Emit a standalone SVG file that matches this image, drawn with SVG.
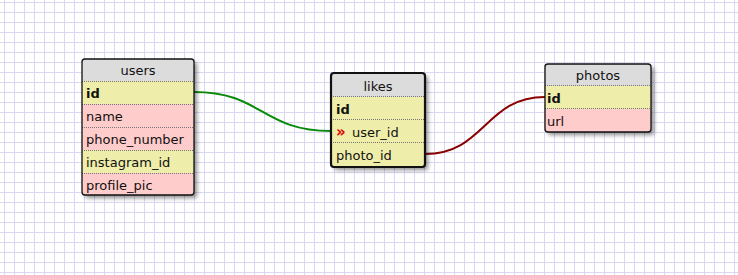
<svg xmlns="http://www.w3.org/2000/svg" width="738" height="275" viewBox="0 0 738 275">
  <defs>
    <pattern id="grid" x="0" y="0" width="10" height="10" patternUnits="userSpaceOnUse">
      <path d="M4.5,0 V10 M0,2.5 H10" stroke="#d9d7f2" stroke-width="1" fill="none"/>
    </pattern>
    <filter id="shadow" x="-20%" y="-20%" width="140%" height="140%">
      <feDropShadow dx="3" dy="3" stdDeviation="2.2" flood-color="#000" flood-opacity="0.45"/>
    </filter>
  </defs>
  <style>
    text { font-family: "DejaVu Sans", Verdana, sans-serif; font-size: 13px; fill: #111; }
    .title { text-anchor: middle; }
    .key { font-weight: bold; }
    .head { fill: #dcdcdc; }
    .pk, .fk { fill: #eeeeaa; }
    .col { fill: #ffcccc; }
    .sep { stroke: #777; stroke-width: 1; stroke-dasharray: 1 1; fill: none; }
    .frame { fill: none; stroke: #111; stroke-width: 1.3; }
    .frame.sel { stroke-width: 2.2; }
    .link { fill: none; stroke-width: 2; }
    .mark { fill: #e00000; font-weight: bold; font-size: 15px; }
  </style>

  <rect width="738" height="275" fill="#fff"/>
  <rect width="738" height="275" fill="url(#grid)"/>

  <g id="connectors">
    <path class="link" stroke="#0a8a0a" d="M194,92 C262,92 262,131 331,131"/>
    <path class="link" stroke="#8b0000" d="M425,154 C485,154 485,97 545,97"/>
  </g>

  <g id="users">
    <rect x="82" y="59" width="112" height="136" rx="3" fill="#fff" filter="url(#shadow)"/>
    <path class="head" d="M85,59 H191 A3,3 0 0 1 194,62 V81 H82 V62 A3,3 0 0 1 85,59 Z"/>
    <rect class="pk" x="82" y="81" width="112" height="23"/>
    <rect class="col" x="82" y="104" width="112" height="23"/>
    <rect class="col" x="82" y="127" width="112" height="23"/>
    <rect class="fk" x="82" y="150" width="112" height="23"/>
    <path class="col" d="M82,173 H194 V192 A3,3 0 0 1 191,195 H85 A3,3 0 0 1 82,192 Z"/>
    <path class="sep" d="M82,81.5 H194 M82,104.5 H194 M82,127.5 H194 M82,150.5 H194 M82,173.5 H194"/>
    <rect class="frame" x="82" y="59" width="112" height="136" rx="3"/>
    <text class="title" x="138" y="75">users</text>
    <text class="key" x="86" y="98">id</text>
    <text x="86" y="121">name</text>
    <text x="86" y="144">phone_number</text>
    <text x="86" y="167">instagram_id</text>
    <text x="86" y="190">profile_pic</text>
  </g>

  <g id="likes">
    <rect x="331" y="73" width="94" height="94" rx="3" fill="#fff" filter="url(#shadow)"/>
    <path class="head" d="M334,73 H422 A3,3 0 0 1 425,76 V97 H331 V76 A3,3 0 0 1 334,73 Z"/>
    <rect class="pk" x="331" y="97" width="94" height="23"/>
    <rect class="fk" x="331" y="120" width="94" height="23"/>
    <path class="fk" d="M331,143 H425 V164 A3,3 0 0 1 422,167 H334 A3,3 0 0 1 331,164 Z"/>
    <path class="sep" d="M331,96.5 H425 M331,119.5 H425 M331,142.5 H425"/>
    <rect class="frame sel" x="331" y="73" width="94" height="94" rx="3"/>
    <text class="title" x="378" y="91">likes</text>
    <text class="key" x="336" y="114">id</text>
    <text class="mark" x="336" y="137">»</text>
    <text x="352" y="137">user_id</text>
    <text x="336" y="160">photo_id</text>
  </g>

  <g id="photos">
    <rect x="545" y="64" width="106" height="68" rx="3" fill="#fff" filter="url(#shadow)"/>
    <path class="head" d="M548,64 H648 A3,3 0 0 1 651,67 V86 H545 V67 A3,3 0 0 1 548,64 Z"/>
    <rect class="pk" x="545" y="86" width="106" height="23"/>
    <path class="col" d="M545,109 H651 V129 A3,3 0 0 1 648,132 H548 A3,3 0 0 1 545,129 Z"/>
    <path class="sep" d="M545,85.5 H651 M545,108.5 H651"/>
    <rect class="frame" x="545" y="64" width="106" height="68" rx="3"/>
    <text class="title" x="598" y="80">photos</text>
    <text class="key" x="547" y="103">id</text>
    <text x="547" y="126">url</text>
  </g>
</svg>
